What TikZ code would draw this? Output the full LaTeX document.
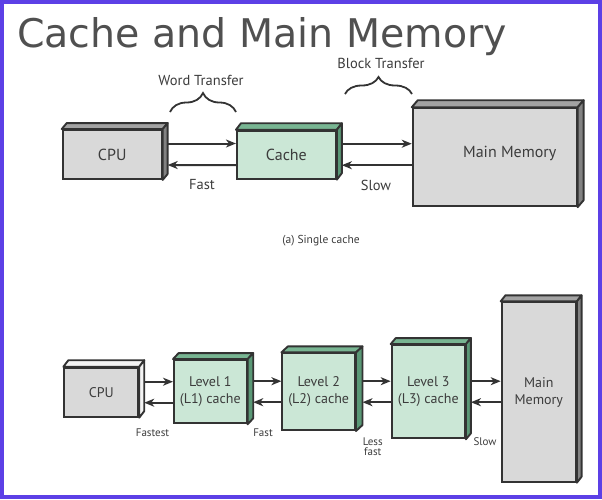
\documentclass[tikz,border=0pt]{standalone}
\usepackage{fontspec}
\setmainfont{PT Sans}
\newfontfamily\titlefont{DejaVu Sans}
\usetikzlibrary{
  arrows.meta,
  decorations.pathreplacing,
}

\definecolor{edge}{HTML}{333333}
\definecolor{ink}{HTML}{3C3C3C}
\definecolor{grayfront}{HTML}{D9D9D9}
\definecolor{graytop}{HTML}{A3A3A3}
\definecolor{grayside}{HTML}{828282}
\definecolor{paletop}{HTML}{F4F4F4}
\definecolor{greenfront}{HTML}{CBE7D6}
\definecolor{greentop}{HTML}{78B592}
\definecolor{greenside}{HTML}{5A9876}
\definecolor{frame}{HTML}{5C40E6}

% depth faces of a box: node, top fill, side fill, offset
\newcommand{\slab}[4]{%
  \filldraw[draw=edge,line width=1.9pt,line join=round,fill=#2]
    (#1.north west) -- ++(#4) -- ([shift={(#4)}]#1.north east) -- (#1.north east) -- cycle;
  \filldraw[draw=edge,line width=1.9pt,line join=round,fill=#3]
    (#1.north east) -- ++(#4) -- ([shift={(#4)}]#1.south east) -- (#1.south east) -- cycle;
}

\tikzset{
  unit/.style={draw=edge,line width=1.9pt,text=ink,inner sep=0pt,align=center},
  bigunit/.style={unit,font=\fontsize{16}{18}\selectfont},
  smallunit/.style={unit,font=\fontsize{14}{17}\selectfont},
  link/.style={draw=edge,line width=2pt,-{Stealth[length=10pt,width=8pt,inset=3pt]}},
  speed/.style={text=ink,inner sep=0pt,align=center},
  wrap/.style={draw=edge,line width=1.8pt,decorate,decoration={brace,amplitude=#1}},
}

\begin{document}
\begin{tikzpicture}[x=1pt,y=-1pt]
\useasboundingbox (0,0) rectangle (602,499);
\fill[white] (0,0) rectangle (602,499);
\draw[frame,line width=4pt] (2,2) rectangle (600,497);

\node[anchor=base west,text=ink!90,inner sep=0pt,font=\titlefont\fontsize{39.5}{46}\selectfont]
  (title) at (17,47) {Cache and Main Memory};

% (a) single cache
\node[bigunit,fill=grayfront,minimum width=99pt,minimum height=49pt] (cpu) at (112.2,154.5) {CPU};
\node[bigunit,fill=greenfront,minimum width=99pt,minimum height=48pt] (cache) at (286.4,154.7) {Cache};
\node[bigunit,fill=grayfront,minimum width=164pt,minimum height=98pt] (mm) at (494.7,157.2) {};
\node[speed,font=\fontsize{16}{18}\selectfont] (mmtext) at ([xshift=15pt,yshift=4pt]mm.center) {Main Memory};
\slab{cpu}{graytop}{grayside}{5,-6}
\slab{cache}{greentop}{greenside}{5,-6.5}
\slab{mm}{graytop}{grayside}{6,-7}

\draw[link] ([xshift=5pt,yshift=11pt]cpu.east) -- ([yshift=11pt]cpu.east -| cache.west);
\draw[link] ([yshift=-10.5pt]cache.west) -- ([xshift=5pt,yshift=-10.5pt]cpu.east);
\draw[link] ([xshift=5pt,yshift=11pt]cache.east) -- ([yshift=11pt]cache.east -| mm.west);
\draw[link] ([yshift=-10.5pt]cache.east -| mm.west) -- ([xshift=5pt,yshift=-10.5pt]cache.east);

\draw[wrap=19pt] (170,112) -- (236,112);
\draw[wrap=17pt] (345,94) -- (412,94);
\node[speed,font=\fontsize{14.5}{17}\selectfont] (word) at (201,80) {Word Transfer};
\node[speed,font=\fontsize{14.5}{17}\selectfont] (block) at (381,63) {Block Transfer};
\node[speed,font=\fontsize{14.5}{17}\selectfont] (fast) at (202,185) {Fast};
\node[speed,font=\fontsize{14.5}{17}\selectfont] (slow) at (376,185) {Slow};
\node[speed,font=\fontsize{11.5}{13}\selectfont] (caption) at (321,241) {(a) Single cache};

% (b) three levels
\node[smallunit,fill=grayfront,minimum width=74pt,minimum height=49pt] (cpub) at (101.3,392.2) {CPU};
\node[smallunit,fill=greenfront,minimum width=72.7pt,minimum height=63.3pt] (lone) at (210.3,391.7) {Level 1\\(L1) cache};
\node[smallunit,fill=greenfront,minimum width=72.7pt,minimum height=76.7pt] (ltwo) at (318.7,391.7) {Level 2\\(L2) cache};
\node[smallunit,fill=greenfront,minimum width=73.3pt,minimum height=93.3pt] (lthree) at (428.3,391.7) {Level 3\\(L3) cache};
\node[smallunit,fill=grayfront,minimum width=74.3pt,minimum height=179.4pt] (mmb) at (538.8,392) {Main\\Memory};
\slab{cpub}{paletop}{paletop}{5,-6.5}
\slab{lone}{greentop}{greenside}{5.6,-6}
\slab{ltwo}{greentop}{greenside}{6.5,-6}
\slab{lthree}{greentop}{greenside}{5,-6}
\slab{mmb}{graytop}{grayside}{4.7,-6}

\foreach \a/\b/\d in {cpub/lone/5,lone/ltwo/5.6,ltwo/lthree/6.5,lthree/mmb/5} {
  \draw[link] ([xshift=\d pt,yshift=10.5pt]\a.east) -- ([yshift=10.5pt]\a.east -| \b.west);
  \draw[link] ([yshift=-10.5pt]\a.east -| \b.west) -- ([xshift=\d pt,yshift=-10.5pt]\a.east);
}

\node[speed,font=\fontsize{11}{11}\selectfont] (fastest) at (152.5,433) {Fastest};
\node[speed,font=\fontsize{11}{11}\selectfont] (fastb) at (263,433) {Fast};
\node[speed,font=\fontsize{11}{10}\selectfont] (lessfast) at (372.7,447) {Less\\fast};
\node[speed,font=\fontsize{11}{11}\selectfont] (slowb) at (485,442) {Slow};
\end{tikzpicture}
\end{document}
